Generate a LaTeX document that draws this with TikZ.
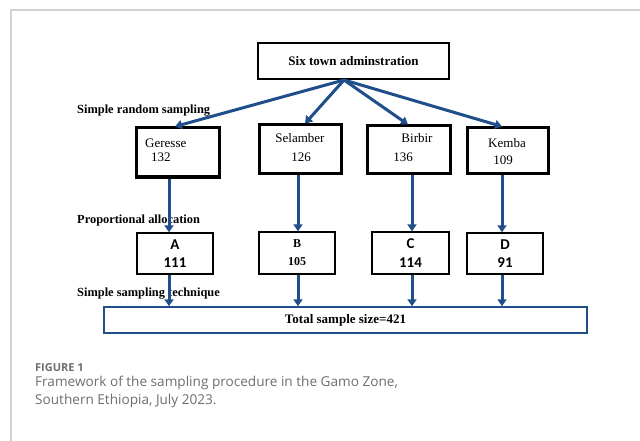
\documentclass[tikz,border=0pt]{standalone}
\usepackage{fontspec}
\setmainfont{Liberation Serif}
\newfontfamily\carl{Carlito}
\newfontfamily\capf{Open Sans}
\usetikzlibrary{arrows.meta,calc}
\definecolor{arrowblue}{HTML}{1F4E8A}
\definecolor{framegray}{HTML}{D2D2D2}
\definecolor{capgray}{HTML}{6E6E6E}
\begin{document}
\begin{tikzpicture}[x=1pt,y=-1pt,
  topbox/.style={draw, line width=2pt, inner sep=0pt, minimum width=#1},
  townbox/.style={draw, line width=3pt, inner sep=0pt},
  letterbox/.style={draw, line width=1.4pt, inner sep=0pt, align=center},
  totalbox/.style={draw=arrowblue, line width=1.5pt, inner sep=0pt},
  townlbl/.style={inner sep=0pt, font=\fontsize{13}{15}\selectfont},
  sidelbl/.style={inner sep=0pt, anchor=west, font=\fontsize{12.4}{14}\selectfont\bfseries},
  flow/.style={draw=arrowblue, line width=3pt, -{Triangle[length=7pt,width=9pt]}}]
\useasboundingbox (0,0) rectangle (640,441);
\fill[white] (0,0) rectangle (640,441);
% frame
\draw[framegray, line width=1.5pt] (11,441) -- (11,10) -- (640,10);

% top box
\node[topbox=191pt, minimum height=36pt, font=\fontsize{13}{15}\selectfont\bfseries] (top) at (353.5,61) {Six town adminstration};
\coordinate (src) at (344,80);

% town boxes
\node[townbox, minimum width=83pt, minimum height=49pt] (geresse) at (177.5,152.5) {};
\node[townbox, minimum width=82pt, minimum height=49pt] (selamber) at (300,149.5) {};
\node[townbox, minimum width=83pt, minimum height=48pt] (birbir) at (408.5,150) {};
\node[townbox, minimum width=81pt, minimum height=46pt] (kemba) at (507.5,151) {};

\node[townlbl, anchor=west] (gname) at (145,143) {Geresse};
\node[townlbl, anchor=west] (gnum) at (151,157) {132};
\node[townlbl] (sname) at (300,138) {Selamber};
\node[townlbl] (snum) at (301,157) {126};
\node[townlbl] (bname) at (417,138) {Birbir};
\node[townlbl] (bnum) at (403,157) {136};
\node[townlbl] (kname) at (507,143) {Kemba};
\node[townlbl] (knum) at (503,160) {109};

% letter boxes
\node[letterbox, minimum width=76pt, minimum height=41pt, font=\carl\bfseries\fontsize{15}{17.5}\selectfont] (A) at (175,253.5) {A\\111};
\node[letterbox, minimum width=76pt, minimum height=42pt, font=\bfseries\fontsize{12}{18}\selectfont] (B) at (297,253) {B\\105};
\node[letterbox, minimum width=77pt, minimum height=42pt, font=\carl\bfseries\fontsize{15}{18.5}\selectfont] (C) at (410.5,253) {C\\114};
\node[letterbox, minimum width=76pt, minimum height=41pt, font=\carl\bfseries\fontsize{15}{17.5}\selectfont] (D) at (505,253.5) {D\\91};

% total box
\node[totalbox, minimum width=483pt, minimum height=26pt, font=\fontsize{13}{15}\selectfont\bfseries] (total) at (345.5,320) {Total sample size=421};

% side labels
\node[sidelbl] (l1) at (77,111) {Simple random sampling};
\node[sidelbl] (l2) at (77,221) {Proportional allocation};
\node[sidelbl] (l3) at (77,294) {Simple sampling technique};

% connector anchor points
\coordinate (gs) at ($(geresse.south)+(-8.5,0)$);
\coordinate (ss) at ($(selamber.south)+(-2,0)$);
\coordinate (bs) at ($(birbir.south)+(3.5,0)$);
\coordinate (ks) at ($(kemba.south)+(-5.5,0)$);
\coordinate (as) at ($(A.south)+(-6,0)$);
\coordinate (bbs) at ($(B.south)+(1,0)$);
\coordinate (cs) at ($(C.south)+(1.5,0)$);
\coordinate (ds) at ($(D.south)+(-3,0)$);

% arrows from top
\draw[flow] (src) -- ($(geresse.north)+(-2.5,0)$);
\draw[flow] (src) -- ($(selamber.north)+(5,0)$);
\draw[flow] (src) -- ($(birbir.north)+(-0.5,0)$);
\draw[flow] (src) -- ($(kemba.north)+(-5.5,0)$);

% town to letter
\draw[flow] (gs) -- (gs |- A.north);
\draw[flow] (ss) -- (ss |- B.north);
\draw[flow] (bs) -- (bs |- C.north);
\draw[flow] (ks) -- (ks |- D.north);

% letter to total
\draw[flow] (as) -- (as |- total.north);
\draw[flow] (bbs) -- (bbs |- total.north);
\draw[flow] (cs) -- (cs |- total.north);
\draw[flow] (ds) -- (ds |- total.north);

% caption
\node[inner sep=0pt, anchor=west, text=capgray, font=\capf\bfseries\fontsize{11}{13}\selectfont] (cap1) at (35,368) {FIGURE 1};
\node[inner sep=0pt, anchor=north west, align=left, text=capgray, font=\capf\fontsize{13.6}{18}\selectfont] (cap2) at (35,376) {Framework of the sampling procedure in the Gamo Zone,\\Southern Ethiopia, July 2023.};
\end{tikzpicture}
\end{document}
